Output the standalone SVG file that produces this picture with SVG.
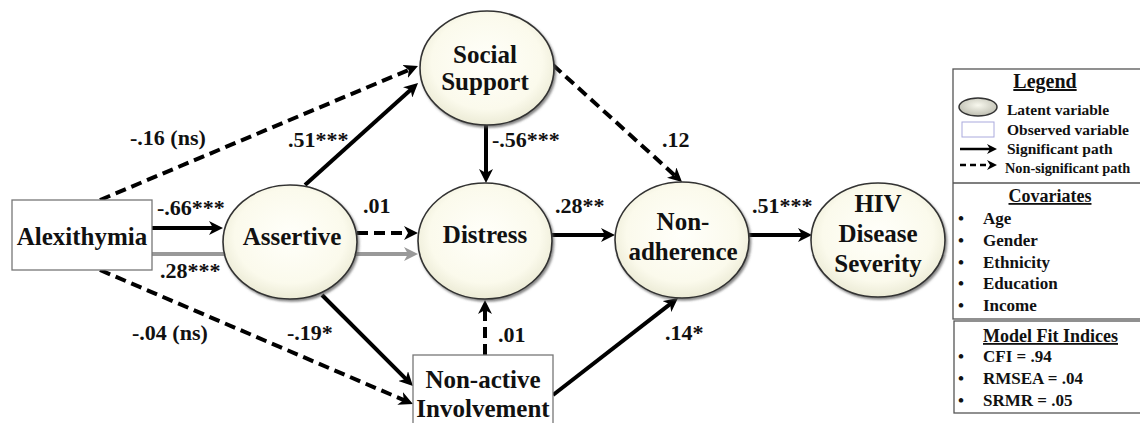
<svg xmlns="http://www.w3.org/2000/svg" width="1140" height="423" viewBox="0 0 1140 423" font-family="'Liberation Serif', 'DejaVu Serif', serif" font-weight="bold">
<style>
text{font-family:"Liberation Serif","DejaVu Serif",serif;font-weight:bold;fill:#111}
.node{font-size:25px;text-anchor:middle}
.lbl{font-size:22px}
.lat{fill:url(#cream);stroke:#333;stroke-width:1.6;filter:url(#sh)}
.obs{fill:#fff;stroke:#777;stroke-width:1.3}
.e{fill:none;stroke:#000;stroke-width:4}
.d{stroke-dasharray:11,6}
.lg{font-size:15.5px}
.cv{font-size:17px}
.hd{font-size:18px;text-decoration:underline}
.box{fill:#fff;stroke:#555;stroke-width:1.3}
</style>
<defs>
<radialGradient id="cream" cx="50%" cy="45%" r="55%">
<stop offset="0" stop-color="#fffffa"/>
<stop offset="0.75" stop-color="#fbfaec"/>
<stop offset="1" stop-color="#ecebd6"/>
</radialGradient>
<radialGradient id="icon" cx="50%" cy="40%" r="60%">
<stop offset="0" stop-color="#f8f8ee"/>
<stop offset="1" stop-color="#bdbdb0"/>
</radialGradient>
<filter id="sh" x="-10%" y="-10%" width="125%" height="125%">
<feDropShadow dx="1.5" dy="2" stdDeviation="1" flood-color="#555" flood-opacity="0.7"/>
</filter>
<marker id="ah" markerUnits="userSpaceOnUse" markerWidth="14" markerHeight="14" refX="6" refY="7" orient="auto">
<path d="M0,0 L14,7 L0,14 L4,7 z" fill="#000"/>
</marker>
<marker id="ahg" markerUnits="userSpaceOnUse" markerWidth="14" markerHeight="14" refX="6" refY="7" orient="auto">
<path d="M0,0 L14,7 L0,14 L4,7 z" fill="#999"/>
</marker>
<marker id="ahs" markerUnits="userSpaceOnUse" markerWidth="10" markerHeight="10" refX="4" refY="5" orient="auto">
<path d="M0,0 L10,5 L0,10 L3,5 z" fill="#000"/>
</marker>
</defs>
<rect width="1140" height="423" fill="#fff"/>

<g id="connectors">
<line class="e" x1="152" y1="254" x2="410" y2="254" style="stroke:#999" marker-end="url(#ahg)"/>
<line class="e d" x1="100" y1="200" x2="410.6" y2="69.1" marker-end="url(#ah)"/>
<line class="e" x1="305" y1="185" x2="412.1" y2="88.4" marker-end="url(#ah)"/>
<line class="e" x1="152" y1="228" x2="215" y2="228" marker-end="url(#ah)"/>
<line class="e d" x1="357" y1="233" x2="410" y2="233" marker-end="url(#ah)"/>
<line class="e" x1="486" y1="125" x2="486" y2="175" marker-end="url(#ah)"/>
<line class="e d" x1="553" y1="65" x2="676.1" y2="176.6" marker-end="url(#ah)"/>
<line class="e" x1="552" y1="235" x2="607" y2="235" marker-end="url(#ah)"/>
<line class="e" x1="748" y1="235" x2="804" y2="235" marker-end="url(#ah)"/>
<line class="e d" x1="100" y1="270" x2="405.6" y2="400.8" marker-end="url(#ah)"/>
<line class="e" x1="322" y1="295" x2="407.3" y2="380.3" marker-end="url(#ah)"/>
<line class="e d" x1="485" y1="355" x2="485" y2="308" marker-end="url(#ah)"/>
<line class="e" x1="553" y1="395" x2="671.7" y2="302.9" marker-end="url(#ah)"/>
</g>

<g id="edge-labels">
<text class="lbl" x="130" y="145">-.16 (ns)</text>
<text class="lbl" x="288" y="147">.51***</text>
<text class="lbl" x="157" y="215">-.66***</text>
<text class="lbl" x="160" y="278">.28***</text>
<text class="lbl" x="363" y="213">.01</text>
<text class="lbl" x="492" y="147">-.56***</text>
<text class="lbl" x="662" y="147">.12</text>
<text class="lbl" x="555" y="213">.28**</text>
<text class="lbl" x="752" y="213">.51***</text>
<text class="lbl" x="132" y="340">-.04 (ns)</text>
<text class="lbl" x="287" y="340">-.19*</text>
<text class="lbl" x="498" y="342">.01</text>
<text class="lbl" x="665" y="340">.14*</text>
</g>

<g id="alexithymia">
<rect class="obs" x="12" y="200" width="140" height="70"/>
<text class="node" x="82" y="245">Alexithymia</text>
</g>
<g id="assertive">
<ellipse class="lat" cx="290" cy="242" rx="67" ry="57"/>
<text class="node" x="292" y="245">Assertive</text>
</g>
<g id="social-support">
<ellipse class="lat" cx="487" cy="68" rx="67" ry="57"/>
<text class="node" x="485" y="63">Social</text>
<text class="node" x="485" y="90">Support</text>
</g>
<g id="distress">
<ellipse class="lat" cx="485" cy="241" rx="67" ry="58"/>
<text class="node" x="485" y="243">Distress</text>
</g>
<g id="non-adherence">
<ellipse class="lat" cx="682" cy="240" rx="67" ry="58"/>
<text class="node" x="683" y="230">Non-</text>
<text class="node" x="683" y="260">adherence</text>
</g>
<g id="hiv-disease-severity">
<ellipse class="lat" cx="878" cy="240" rx="67" ry="57"/>
<text class="node" x="878" y="212">HIV</text>
<text class="node" x="878" y="242">Disease</text>
<text class="node" x="878" y="272">Severity</text>
</g>
<g id="non-active-involvement">
<rect class="obs" x="413" y="355" width="140" height="75"/>
<text class="node" x="483" y="388">Non-active</text>
<text class="node" x="483" y="417">Involvement</text>
</g>

<g id="legend">
<rect class="box" x="953" y="69" width="200" height="250"/>
<line x1="953" y1="183" x2="1140" y2="183" stroke="#555" stroke-width="1.3"/>
<text class="hd" x="1045" y="88" text-anchor="middle" style="font-size:20px">Legend</text>
<ellipse cx="978" cy="107" rx="19" ry="9" fill="url(#icon)" stroke="#333" stroke-width="1.5"/>
<text class="lg" x="1007" y="115">Latent variable</text>
<rect x="962" y="122" width="32" height="15" fill="#fff" stroke="#aaaadd" stroke-width="1"/>
<text class="lg" x="1007" y="135">Observed variable</text>
<line x1="960" y1="149" x2="991" y2="149" stroke="#000" stroke-width="2.5" marker-end="url(#ahs)"/>
<text class="lg" x="1007" y="154">Significant  path</text>
<line x1="960" y1="165" x2="991" y2="165" stroke="#000" stroke-width="2.5" stroke-dasharray="6,4" marker-end="url(#ahs)"/>
<text class="lg" x="1005" y="173" style="font-size:14.3px">Non-significant path</text>
<text class="hd" x="1050" y="202" text-anchor="middle">Covariates</text>
<text class="cv" x="958" y="224">•</text><text class="cv" x="983" y="224">Age</text>
<text class="cv" x="958" y="246">•</text><text class="cv" x="983" y="246">Gender</text>
<text class="cv" x="958" y="268">•</text><text class="cv" x="983" y="268">Ethnicity</text>
<text class="cv" x="958" y="289">•</text><text class="cv" x="983" y="289">Education</text>
<text class="cv" x="958" y="311">•</text><text class="cv" x="983" y="311">Income</text>
</g>
<g id="model-fit">
<rect class="box" x="954" y="321" width="200" height="92"/>
<text class="hd" x="983" y="342">Model Fit Indices</text>
<text class="cv" x="958" y="362">•</text><text class="cv" x="983" y="362">CFI = .94</text>
<text class="cv" x="958" y="384">•</text><text class="cv" x="983" y="384">RMSEA = .04</text>
<text class="cv" x="958" y="406">•</text><text class="cv" x="983" y="406">SRMR = .05</text>
</g>
</svg>
